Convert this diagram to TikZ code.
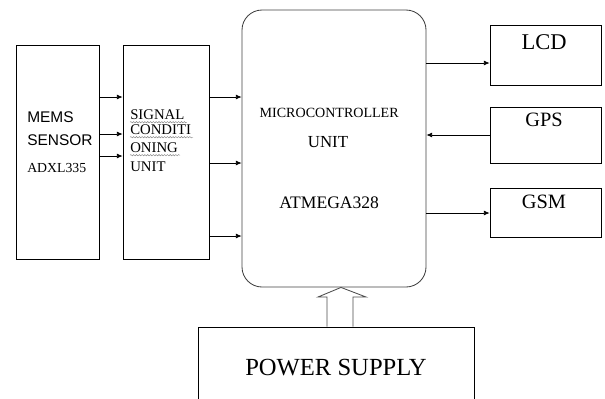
\documentclass[tikz,border=0pt]{standalone}
\usepackage{fontspec}
\setmainfont{Liberation Serif}
\newfontfamily\memsfont{Liberation Sans}
\usetikzlibrary{arrows.meta, positioning, calc, decorations.pathmorphing}

\begin{document}
\begin{tikzpicture}[
    blk/.style={draw, line width=0.6pt, inner sep=0pt},
    lbl/.style={inner sep=0pt},
    conn/.style={line width=0.5pt, -{Latex[length=4pt, width=3.5pt]}},
    wavy/.style={draw=gray, line width=0.3pt, decorate, decoration={snake, amplitude=0.5pt, segment length=2pt}},
    hollow/.style={draw=black!70, line width=0.6pt, fill=white}
  ]
    \useasboundingbox (0,0) rectangle (15.125,-9.95);
    \clip (0,0) rectangle (15.125,-9.95);
    % boxes
    \node[blk, minimum width=2.075cm, minimum height=5.35cm] (mems) at (1.4375,-3.8) {};
    \node[blk, minimum width=2.15cm, minimum height=5.35cm] (sig) at (4.15,-3.8) {};
    \node[blk, draw=black!75, rounded corners=0.5cm, minimum width=4.6cm, minimum height=6.925cm] (mcu) at (8.35,-3.7125) {};
    \node[blk, minimum width=2.775cm, minimum height=1.5cm] (lcd) at (13.6375,-1.375) {};
    \node[blk, minimum width=2.775cm, minimum height=1.4cm] (gps) at (13.6375,-3.375) {};
    \node[blk, minimum width=2.775cm, minimum height=1.225cm] (gsm) at (13.6375,-5.3125) {};
    \node[blk, minimum width=6.9cm, minimum height=2.075cm] (power) at (8.4,-9.2125) {};
    % texts
    \node[lbl, anchor=west, font=\memsfont\fontsize{11}{13}\selectfont] (memsA) at (0.675,-2.925) {MEMS};
    \node[lbl, anchor=west, font=\memsfont\fontsize{11}{13}\selectfont] (memsB) at (0.675,-3.5) {SENSOR};
    \node[lbl, anchor=west, font=\fontsize{9.8}{11}\selectfont] (memsC) at (0.675,-4.2) {ADXL335};
    \foreach \i/\y/\t in {1/-2.875/SIGNAL, 2/-3.25/CONDITI, 3/-3.7/ONING, 4/-4.175/UNIT} {
      \node[lbl, anchor=west, font=\fontsize{10.5}{12}\selectfont] (sig\i) at (3.25,\y) {\t};
    }
    \foreach \i in {1,2,3} {
      \draw[wavy] ($(sig\i.base west)+(0,-0.06)$) -- ($(sig\i.base east)+(0.05,-0.06)$);
    }
    \node[lbl, font=\fontsize{10}{12}\selectfont] (mcuA) at (8.23,-2.825) {MICROCONTROLLER};
    \node[lbl, font=\fontsize{12}{14}\selectfont] (mcuB) at (8.2,-3.55) {UNIT};
    \node[lbl, font=\fontsize{12.5}{15}\selectfont] (mcuC) at (8.23,-5.075) {ATMEGA328};
    \node[lbl, font=\fontsize{16}{18}\selectfont] (lcdT) at (13.6,-1.05) {LCD};
    \node[lbl, font=\fontsize{14.5}{17}\selectfont] (gpsT) at (13.6,-3.0) {GPS};
    \node[lbl, font=\fontsize{14.5}{17}\selectfont] (gsmT) at (13.6,-5.05) {GSM};
    \node[lbl, font=\fontsize{17.5}{20}\selectfont] (powerT) at (8.4,-9.2) {POWER SUPPLY};
    % connectors
    \foreach \y in {-2.425,-3.35,-3.9} {
      \draw[conn] (mems.east |- 0,\y) -- (sig.west |- 0,\y);
    }
    \foreach \y in {-2.425,-4.075,-5.9} {
      \draw[conn] (sig.east |- 0,\y) -- (mcu.west |- 0,\y);
    }
    \draw[conn] (mcu.east |- 0,-1.575) -- (lcd.west |- 0,-1.575);
    \draw[conn] (gps.west) -- (mcu.east |- gps.west);
    \draw[conn] (mcu.east |- 0,-5.325) -- (gsm.west |- 0,-5.325);
    \draw[hollow] (power.north -| 8.175,0) -- (8.175,-7.425) -- (7.95,-7.425)
      -- (mcu.south -| 8.525,0) -- (9.15,-7.425) -- (8.825,-7.425) -- (power.north -| 8.825,0);
  \end{tikzpicture}
\end{document}
